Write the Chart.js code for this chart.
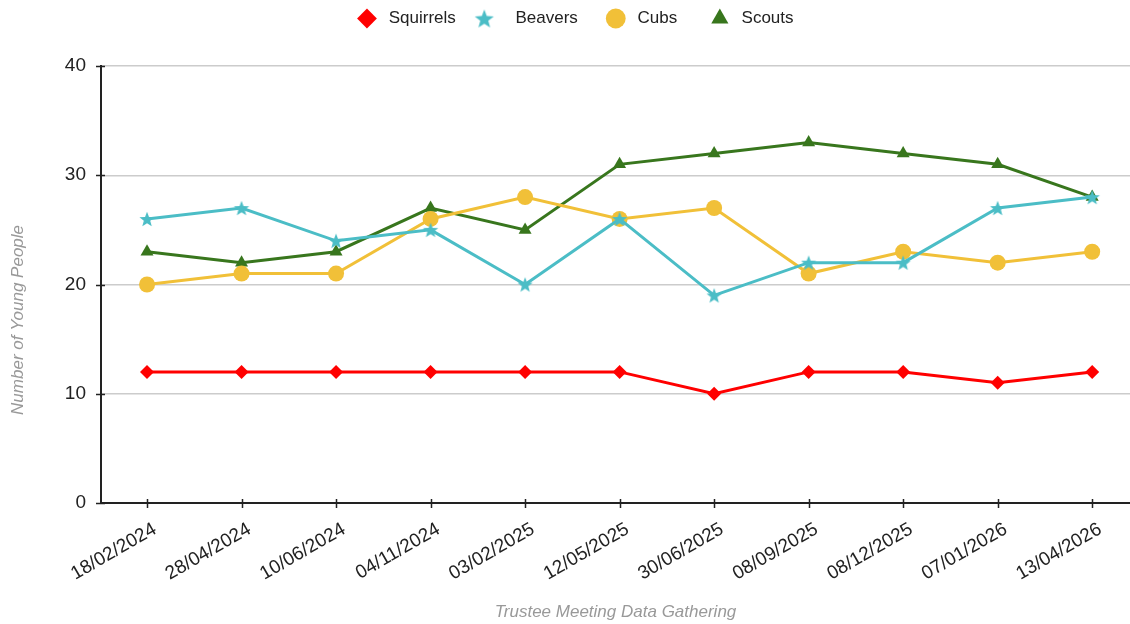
<!DOCTYPE html>
<html>
<head>
<meta charset="utf-8">
<script src="https://cdn.jsdelivr.net/npm/chart.js@4/dist/chart.umd.min.js"></script>
<style>
  html, body { margin: 0; padding: 0; background: #fff; overflow: hidden; }
  #wrap { width: 1130px; height: 624px; }
</style>
</head>
<body>
<div id="wrap"><canvas id="chart"></canvas></div>
<script>
// data
const dates = ["18/02/2024", "28/04/2024", "10/06/2024", "04/11/2024", "03/02/2025", "12/05/2025",
  "30/06/2025", "08/09/2025", "08/12/2025", "07/01/2026", "13/04/2026"];
const squirrels = [12, 12, 12, 12, 12, 12, 10, 12, 12, 11, 12];
const beavers = [26, 27, 24, 25, 20, 26, 19, 22, 22, 27, 28];
const cubs = [20, 21, 21, 26, 28, 26, 27, 21, 23, 22, 23];
const scouts = [23, 22, 23, 27, 25, 31, 32, 33, 32, 31, 28];
const yTicks = [0, 10, 20, 30, 40];

// filled star marker (Chart.js 'star' is just lines)
function starImage(r, color) {
  const c = document.createElement("canvas");
  const s = Math.ceil(r * 2 + 2);
  c.width = s; c.height = s;
  const g = c.getContext("2d");
  g.translate(s / 2, s / 2 + r * 0.1);
  g.beginPath();
  for (let i = 0; i < 10; i++) {
    const rr = i % 2 === 0 ? r : r * 0.42;
    const a = -Math.PI / 2 + i * Math.PI / 5;
    g.lineTo(Math.cos(a) * rr, Math.sin(a) * rr);
  }
  g.closePath();
  g.fillStyle = color;
  g.fill();
  return c;
}

const RED = "#ff0000", TEAL = "#4bbdc6", GOLD = "#f1c038", GREEN = "#38761d";
const starPoint = starImage(8, TEAL);
const starLegend = starImage(10, TEAL);

const toXY = arr => arr.map((v, i) => ({ x: i, y: v }));

function ds(label, values, color, style, radius) {
  return {
    label: label,
    data: toXY(values),
    borderColor: color,
    backgroundColor: color,
    borderWidth: 3,
    pointStyle: style,
    pointRadius: radius,
    pointHoverRadius: radius,
    pointBorderWidth: 0,
    tension: 0
  };
}

// axis tick marks that cross the axis line, like the original
const crossTicks = {
  id: "crossTicks",
  afterDraw(chart) {
    const { ctx, scales: { x, y } } = chart;
    ctx.save();
    ctx.strokeStyle = "#222";
    ctx.lineWidth = 1.5;
    ctx.beginPath();
    x.ticks.forEach(t => {
      const px = Math.round(x.getPixelForValue(t.value)) + 0.5;
      ctx.moveTo(px, y.bottom - 4);
      ctx.lineTo(px, y.bottom + 5);
    });
    y.ticks.forEach(t => {
      const py = Math.round(y.getPixelForValue(t.value)) + 0.5;
      ctx.moveTo(x.left - 5, py);
      ctx.lineTo(x.left + 4, py);
    });
    ctx.stroke();
    ctx.restore();
  }
};

// extra room between legend and plot, and legend nudged right a bit
const legendGap = {
  id: "legendGap",
  beforeInit(chart) {
    const fit = chart.legend.fit;
    chart.legend.fit = function () {
      fit.bind(chart.legend)();
      this.height += 29;
    };
  },
  afterLayout(chart) {
    chart.legend.left += 11;
    chart.legend.right += 11;
  }
};

// spacing in the legend is uneven in the original
const legendText = {
  Squirrels: " Squirrels",
  Beavers: "   Beavers  ",
  Cubs: " Cubs   ",
  Scouts: " Scouts"
};

Chart.defaults.font.family = "'Liberation Sans', Arial, sans-serif";

new Chart(document.getElementById("chart"), {
  type: "line",
  data: {
    datasets: [
      ds("Squirrels", squirrels, RED, "rectRot", 7),
      ds("Beavers", beavers, TEAL, starPoint, 8),
      ds("Cubs", cubs, GOLD, "circle", 8),
      ds("Scouts", scouts, GREEN, "triangle", 7.5)
    ]
  },
  plugins: [crossTicks, legendGap],
  options: {
    responsive: true,
    maintainAspectRatio: false,
    animation: false,
    layout: { autoPadding: false, padding: { top: -10, right: 0, bottom: 0, left: 0 } },
    plugins: {
      legend: {
        position: "top",
        labels: {
          usePointStyle: true,
          boxWidth: 17,
          boxHeight: 14,
          padding: 20,
          color: "#222",
          font: { size: 17 },
          generateLabels: chart => {
            const items = Chart.defaults.plugins.legend.labels.generateLabels(chart);
            items.forEach(it => {
              if (it.text === "Beavers") it.pointStyle = starLegend;
              it.text = legendText[it.text] || it.text;
            });
            return items;
          }
        }
      },
      tooltip: { enabled: false }
    },
    scales: {
      x: {
        type: "linear",
        min: -0.487,
        max: 10.4,
        afterBuildTicks: scale => { scale.ticks = dates.map((d, i) => ({ value: i })); },
        afterFit: scale => {
          scale.height = 121;
          scale.paddingLeft = 0;
          scale.paddingRight = 0;
        },
        border: { color: "#222", width: 2 },
        grid: { drawOnChartArea: false, tickColor: "rgba(0,0,0,0)", tickLength: 5 },
        ticks: {
          callback: v => dates[v],
          minRotation: 30,
          maxRotation: 30,
          color: "#222",
          font: { size: 19 },
          padding: 10,
          labelOffset: 8
        },
        title: {
          display: true,
          text: "Trustee Meeting Data Gathering",
          color: "#999",
          font: { size: 17, style: "italic" },
          padding: { top: 0, bottom: 2 }
        }
      },
      y: {
        min: 0,
        max: 40,
        afterBuildTicks: scale => { scale.ticks = yTicks.map(v => ({ value: v })); },
        afterFit: scale => { scale.width = 101; },
        border: { color: "#222", width: 2 },
        grid: { color: "#cccccc", lineWidth: 1.5, tickColor: "rgba(0,0,0,0)", tickLength: 7 },
        ticks: { color: "#222", font: { size: 19 }, padding: 8 },
        title: {
          display: true,
          text: "Number of Young People" + "\u00a0".repeat(15),
          color: "#999",
          font: { size: 17, style: "italic" },
          padding: { top: 8, bottom: 0 }
        }
      }
    }
  }
});
</script>
</body>
</html>
